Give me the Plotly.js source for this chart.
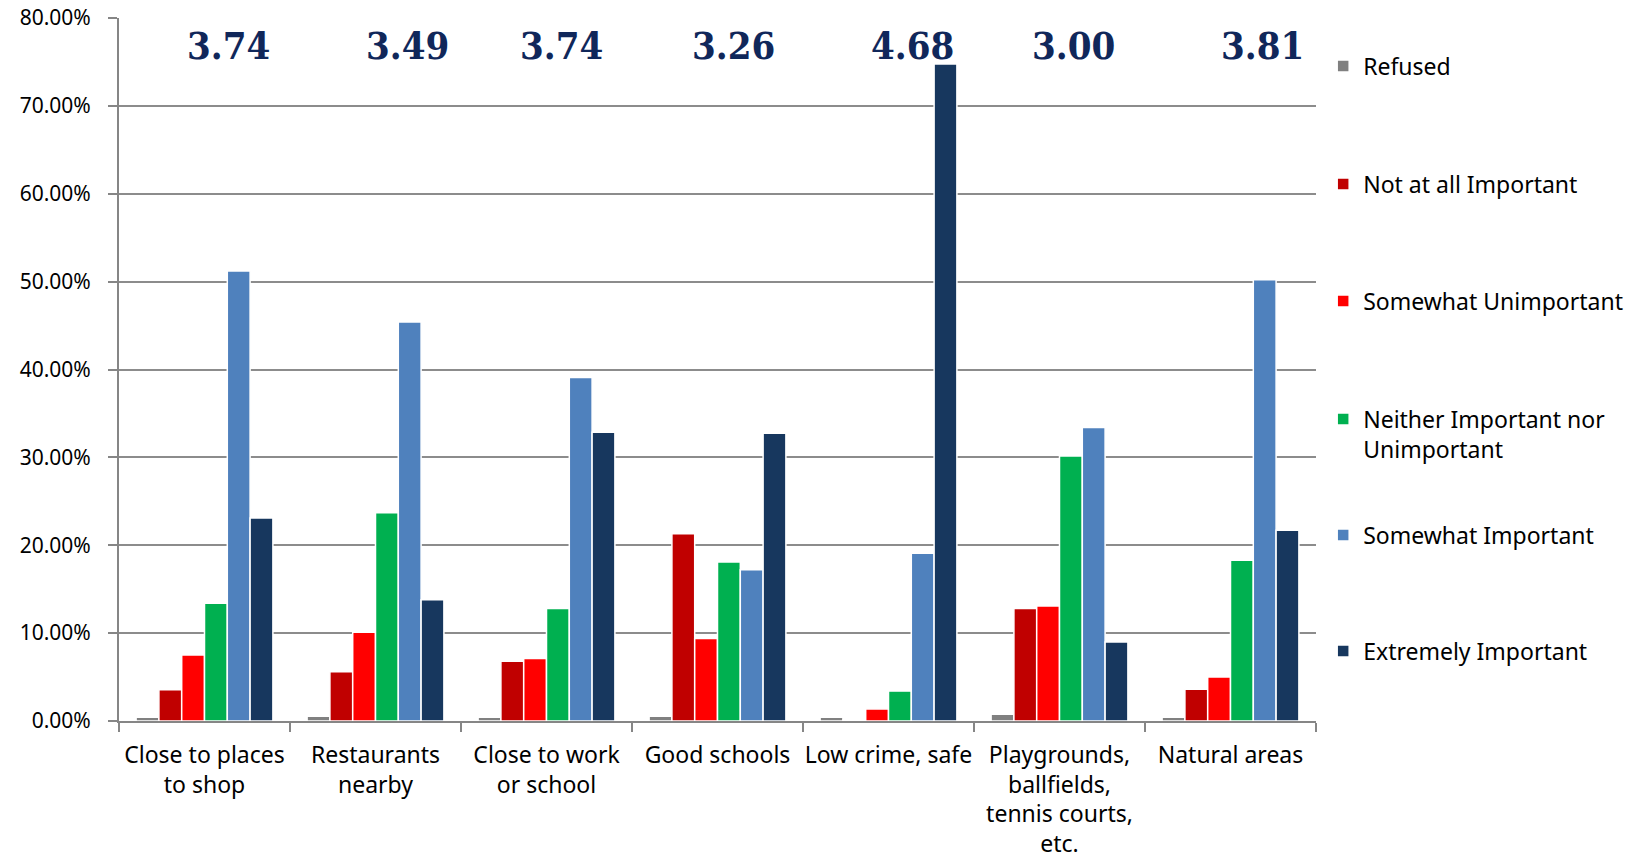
<!DOCTYPE html>
<html>
<head>
<meta charset="utf-8">
<script src="https://cdn.plot.ly/plotly-3.0.1.min.js"></script>
<style>html,body{margin:0;padding:0;background:#fff;}#chart{width:1642px;height:865px;}</style>
</head>
<body>
<div id="chart"></div>
<script>
const categories = ["Close to places<br>to shop", "Restaurants<br>nearby", "Close to work<br>or school", "Good schools", "Low crime, safe", "Playgrounds,<br>ballfields,<br>tennis courts,<br>etc.", "Natural areas"];
const seriesNames = ["Refused", "Not at all Important", "Somewhat Unimportant", "Neither Important nor<br>Unimportant", "Somewhat Important", "Extremely Important"];
const refused = [0.0042, 0.0053, 0.0042, 0.0053, 0.0042, 0.0076, 0.0042];
const notAtAll = [0.0357, 0.056, 0.068, 0.213, 0.001, 0.128, 0.036];
const somewhatUnimp = [0.075, 0.101, 0.071, 0.094, 0.0137, 0.131, 0.050];
const neither = [0.134, 0.237, 0.128, 0.181, 0.034, 0.3015, 0.183];
const somewhatImp = [0.512, 0.454, 0.391, 0.172, 0.191, 0.334, 0.502];
const extremely = [0.231, 0.138, 0.3285, 0.3275, 0.7477, 0.090, 0.217];
const meanScores = ["3.74", "3.49", "3.74", "3.26", "4.68", "3.00", "3.81"];

const seriesValues = [refused, notAtAll, somewhatUnimp, neither, somewhatImp, extremely];
const colors = ["#808080", "#C00000", "#FF0000", "#00B050", "#4F81BD", "#17375E"];
const legendIds = ["legend", "legend2", "legend3", "legend4", "legend5", "legend6"];
const legendY = [0.9317, 0.7639, 0.5974, 0.4083, 0.2646, 0.0996];
const scoreX = [0.0915, 0.2412, 0.3693, 0.513, 0.6625, 0.7978, 0.9557];

const sansFamily = "Noto Sans, Liberation Sans, sans-serif";

const traces = seriesValues.map((vals, i) => ({
  type: "bar",
  name: seriesNames[i],
  x: categories,
  y: vals,
  marker: {color: colors[i], line: {color: "#ffffff", width: 1.5}},
  legend: legendIds[i],
  showlegend: true,
  hoverinfo: "none"
}));

const layout = {
  width: 1642,
  height: 865,
  margin: {l: 119, r: 326, t: 18, b: 144},
  paper_bgcolor: "#fff",
  plot_bgcolor: "#fff",
  barmode: "group",
  bargap: 0.2,
  bargroupgap: 0,
  showlegend: true,
  font: {family: sansFamily, size: 22, color: "#000"},
  xaxis: {
    type: "category",
    showline: true,
    linecolor: "#868686",
    linewidth: 2,
    ticks: "outside",
    tickson: "boundaries",
    ticklen: 9,
    tickwidth: 2,
    tickcolor: "#868686",
    showgrid: false,
    tickangle: 0,
    tickfont: {family: sansFamily, size: 23, color: "#000"},
    ticklabelstandoff: 12
  },
  yaxis: {
    range: [0, 0.8],
    dtick: 0.1,
    tickformat: ".2%",
    showline: true,
    linecolor: "#868686",
    linewidth: 2,
    ticks: "outside",
    ticklen: 9,
    tickwidth: 2,
    tickcolor: "#868686",
    showgrid: true,
    gridcolor: "#8c8c8c",
    gridwidth: 2,
    zeroline: false,
    tickfont: {family: sansFamily, size: 21, color: "#000"},
    ticklabelstandoff: 13
  },
  annotations: meanScores.map((s, i) => ({
    text: s,
    xref: "paper", yref: "paper",
    x: scoreX[i], y: 0.961,
    xanchor: "center", yanchor: "middle",
    showarrow: false,
    font: {family: "DejaVu Serif Condensed, DejaVu Serif, serif", size: 38, color: "#10275A", weight: "bold"}
  }))
};

legendIds.forEach((id, i) => {
  layout[id] = {
    x: 1.006, xanchor: "left",
    y: legendY[i], yanchor: "middle",
    bgcolor: "rgba(0,0,0,0)",
    borderwidth: 0,
    valign: "top",
    font: {family: sansFamily, size: 23, color: "#000"}
  };
});

Plotly.newPlot("chart", traces, layout, {displayModeBar: false, staticPlot: true});
</script>
</body>
</html>
